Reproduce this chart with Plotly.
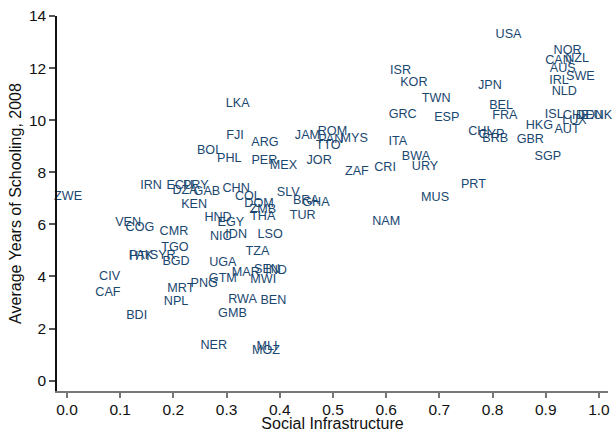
import plotly.graph_objects as go

countries = ["USA","NOR","NZL","CAN","AUS","SWE","IRL","NLD","ISL","CHE","DEU","DNK","LUX","AUT","HKG","GBR","SGP",
             "JPN","BEL","FRA","CHL","CYP","BRB","ISR","KOR","TWN","GRC","ESP","ITA","BWA","URY","CRI","ZAF","PRT","MUS","NAM",
             "LKA","FJI","ARG","BOL","PHL","PER","MEX","JAM","ROM","PAN","MYS","TTO","JOR",
             "ZWE","IRN","ECU","DZA","PRY","GAB","CHN","COL","KEN","DOM","ZMB","THA","SLV","BRA","GHA","TUR",
             "HND","EGY","NIC","IDN","LSO","TZA","VEN","COG","CMR","TGO","SYR","PAK","HTI","BGD","UGA",
             "MAR","SEN","IND","MWI","GTM","PNG","MRT","NPL","CIV","CAF","BDI","RWA","BEN","GMB","NER","MLI","MOZ"]

social_infra = [0.830,0.941,0.959,0.924,0.932,0.965,0.925,0.935,0.916,0.957,0.982,1.000,0.954,0.940,0.888,0.871,0.904,
                0.795,0.816,0.823,0.778,0.798,0.805,0.627,0.652,0.694,0.631,0.714,0.622,0.656,0.673,0.598,0.545,0.764,0.692,0.600,
                0.321,0.316,0.372,0.268,0.305,0.371,0.407,0.452,0.499,0.496,0.540,0.491,0.474,
                0.002,0.158,0.212,0.222,0.242,0.263,0.318,0.340,0.239,0.361,0.368,0.368,0.416,0.449,0.468,0.443,
                0.284,0.308,0.289,0.318,0.382,0.358,0.115,0.137,0.201,0.203,0.180,0.139,0.136,0.205,0.293,
                0.336,0.376,0.393,0.369,0.293,0.258,0.214,0.205,0.080,0.077,0.131,0.330,0.388,0.311,0.276,0.376,0.374]

schooling = [13.27,12.66,12.37,12.27,11.96,11.67,11.50,11.08,10.19,10.15,10.15,10.15,9.99,9.64,9.77,9.26,8.59,
             11.31,10.54,10.15,9.57,9.43,9.27,11.89,11.44,10.82,10.21,10.09,9.17,8.59,8.20,8.17,8.03,7.52,7.03,6.09,
             10.63,9.38,9.12,8.84,8.51,8.45,8.25,9.38,9.55,9.26,9.28,9.02,8.42,
             7.06,7.48,7.48,7.29,7.48,7.25,7.35,7.07,6.75,6.78,6.56,6.27,7.20,6.92,6.81,6.32,
             6.24,6.04,5.53,5.59,5.59,4.95,6.05,5.86,5.71,5.09,4.78,4.78,4.74,4.54,4.53,
             4.14,4.27,4.22,3.88,3.89,3.73,3.54,3.04,3.98,3.38,2.49,3.11,3.07,2.57,1.33,1.31,1.13]

x_ticks = [0.0,0.1,0.2,0.3,0.4,0.5,0.6,0.7,0.8,0.9,1.0]
x_tick_labels = ["0.0","0.1","0.2","0.3","0.4","0.5","0.6","0.7","0.8","0.9","1.0"]
y_ticks = [0,2,4,6,8,10,12,14]

FONT = "Liberation Sans, Arial, Helvetica, sans-serif"
LABEL_COLOR = "#1a476f"

fig = go.Figure(go.Scatter(
    x=social_infra, y=schooling, text=countries, mode="text",
    textposition="middle center",
    textfont=dict(family=FONT, size=12.6, color=LABEL_COLOR),
    cliponaxis=False, hoverinfo="text",
))

fig.update_layout(
    width=613, height=432,
    margin=dict(l=57, r=5, t=16, b=41, pad=0),
    paper_bgcolor="white", plot_bgcolor="white",
    showlegend=False,
    font=dict(family=FONT, color="#111111"),
)
fig.update_xaxes(
    range=[-0.0188, 1.017], tickvals=x_ticks, ticktext=x_tick_labels,
    automargin=False,
    showgrid=False, zeroline=False,
    showline=True, linecolor="#777777", linewidth=2,
    ticks="outside", ticklen=5, tickcolor="#777777", tickwidth=1.5,
    ticklabelstandoff=-2,
    tickfont=dict(family=FONT, size=15.5, color="#111111"),
    title=dict(text="Social Infrastructure", font=dict(family=FONT, size=16, color="#111111"), standoff=7),
)
fig.update_yaxes(
    range=[-0.40, 14.0], tickvals=y_ticks,
    automargin=False,
    showgrid=False, zeroline=False,
    showline=True, linecolor="#111111", linewidth=1.5,
    ticks="outside", ticklen=6, tickcolor="#555555", tickwidth=1.5,
    tickfont=dict(family=FONT, size=15.5, color="#111111"),
    title=dict(text="Average Years of Schooling, 2008", font=dict(family=FONT, size=16, color="#111111"), standoff=3),
)

fig.write_html("out.html")
